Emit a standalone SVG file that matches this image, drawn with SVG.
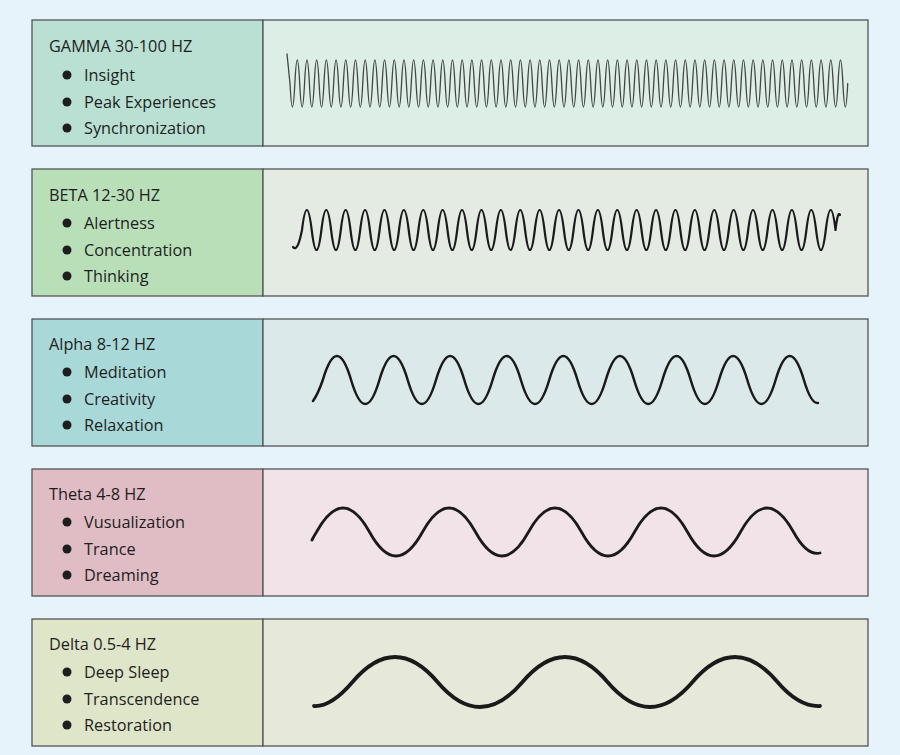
<svg xmlns="http://www.w3.org/2000/svg" width="900" height="755" viewBox="0 0 900 755">
<style>
.bd{stroke:#555;stroke-width:1.3}
.t{font-family:"Open Sans","Liberation Sans",sans-serif;font-size:16.3px;fill:#1e1e1e}
.w{fill:none;stroke:#1a1a1a;stroke-linecap:round;stroke-linejoin:round}
</style>
<rect width="900" height="755" fill="#e6f3fb"/>
<g id="gamma">
<rect class="bd" x="32" y="20" width="231" height="126" fill="#b9e0d2"/>
<rect class="bd" x="263" y="20" width="605" height="126" fill="#ddeee6"/>
<text class="t" x="49" y="52">GAMMA 30-100 HZ</text>
<circle cx="67" cy="75" r="4.5" fill="#1e1e1e"/><text class="t" x="84" y="81">Insight</text>
<circle cx="67" cy="102" r="4.5" fill="#1e1e1e"/><text class="t" x="84" y="108">Peak Experiences</text>
<circle cx="67" cy="128" r="4.5" fill="#1e1e1e"/><text class="t" x="84" y="134">Synchronization</text>
<path class="w" style="stroke:#444;stroke-width:1.3" d="M287,54 L290,83.5 q2.425,47 4.85,0 t4.85,0 t4.85,0 t4.85,0 t4.85,0 t4.85,0 t4.85,0 t4.85,0 t4.85,0 t4.85,0 t4.85,0 t4.85,0 t4.85,0 t4.85,0 t4.85,0 t4.85,0 t4.85,0 t4.85,0 t4.85,0 t4.85,0 t4.85,0 t4.85,0 t4.85,0 t4.85,0 t4.85,0 t4.85,0 t4.85,0 t4.85,0 t4.85,0 t4.85,0 t4.85,0 t4.85,0 t4.85,0 t4.85,0 t4.85,0 t4.85,0 t4.85,0 t4.85,0 t4.85,0 t4.85,0 t4.85,0 t4.85,0 t4.85,0 t4.85,0 t4.85,0 t4.85,0 t4.85,0 t4.85,0 t4.85,0 t4.85,0 t4.85,0 t4.85,0 t4.85,0 t4.85,0 t4.85,0 t4.85,0 t4.85,0 t4.85,0 t4.85,0 t4.85,0 t4.85,0 t4.85,0 t4.85,0 t4.85,0 t4.85,0 t4.85,0 t4.85,0 t4.85,0 t4.85,0 t4.85,0 t4.85,0 t4.85,0 t4.85,0 t4.85,0 t4.85,0 t4.85,0 t4.85,0 t4.85,0 t4.85,0 t4.85,0 t4.85,0 t4.85,0 t4.85,0 t4.85,0 t4.85,0 t4.85,0 t4.85,0 t4.85,0 t4.85,0 t4.85,0 t4.85,0 t4.85,0 t4.85,0 t4.85,0 t4.85,0 t4.85,0 t4.85,0 t4.85,0 t4.85,0 t4.85,0 t4.85,0 t4.85,0 t4.85,0 t4.85,0 t4.85,0 t4.85,0 t4.85,0 t4.85,0 t4.85,0 t4.85,0 t4.85,0 t4.85,0 t4.85,0 t4.85,0 t4.85,0"/>
</g>
<g id="beta">
<rect class="bd" x="32" y="169" width="231" height="127" fill="#b9dfb9"/>
<rect class="bd" x="263" y="169" width="605" height="127" fill="#e3ebe3"/>
<text class="t" x="49" y="201">BETA 12-30 HZ</text>
<circle cx="67" cy="223" r="4.5" fill="#1e1e1e"/><text class="t" x="84" y="229">Alertness</text>
<circle cx="67" cy="250" r="4.5" fill="#1e1e1e"/><text class="t" x="84" y="256">Concentration</text>
<circle cx="67" cy="276" r="4.5" fill="#1e1e1e"/><text class="t" x="84" y="282">Thinking</text>
<path class="w" style="stroke-width:2.2" d="M293,247 C297,252 300,240 302,230 q4.85,-40 9.7,0 t9.7,0 t9.7,0 t9.7,0 t9.7,0 t9.7,0 t9.7,0 t9.7,0 t9.7,0 t9.7,0 t9.7,0 t9.7,0 t9.7,0 t9.7,0 t9.7,0 t9.7,0 t9.7,0 t9.7,0 t9.7,0 t9.7,0 t9.7,0 t9.7,0 t9.7,0 t9.7,0 t9.7,0 t9.7,0 t9.7,0 t9.7,0 t9.7,0 t9.7,0 t9.7,0 t9.7,0 t9.7,0 t9.7,0 t9.7,0 t9.7,0 t9.7,0 t9.7,0 t9.7,0 t9.7,0 t9.7,0 t9.7,0 t9.7,0 t9.7,0 t9.7,0 t9.7,0 t9.7,0 t9.7,0 t9.7,0 t9.7,0 t9.7,0 t9.7,0 t9.7,0 t9.7,0 t9.7,0 q2.4,-20 4.5,-15"/>
</g>
<g id="alpha">
<rect class="bd" x="32" y="319" width="231" height="127" fill="#a9d8d8"/>
<rect class="bd" x="263" y="319" width="605" height="127" fill="#dce9ea"/>
<text class="t" x="49" y="350">Alpha 8-12 HZ</text>
<circle cx="67" cy="372" r="4.5" fill="#1e1e1e"/><text class="t" x="84" y="378">Meditation</text>
<circle cx="67" cy="399" r="4.5" fill="#1e1e1e"/><text class="t" x="84" y="405">Creativity</text>
<circle cx="67" cy="425" r="4.5" fill="#1e1e1e"/><text class="t" x="84" y="431">Relaxation</text>
<path class="w" style="stroke-width:2.5" d="M313,401 Q318,394 322.8,380 q14.15,-48 28.3,0 t28.3,0 t28.3,0 t28.3,0 t28.3,0 t28.3,0 t28.3,0 t28.3,0 t28.3,0 t28.3,0 t28.3,0 t28.3,0 t28.3,0 t28.3,0 t28.3,0 t28.3,0 t28.3,0 Q811,404 818,403"/>
</g>
<g id="theta">
<rect class="bd" x="32" y="469" width="231" height="127" fill="#e0bcc4"/>
<rect class="bd" x="263" y="469" width="605" height="127" fill="#f1e3e8"/>
<text class="t" x="49" y="500">Theta 4-8 HZ</text>
<circle cx="67" cy="522" r="4.5" fill="#1e1e1e"/><text class="t" x="84" y="528">Vusualization</text>
<circle cx="67" cy="549" r="4.5" fill="#1e1e1e"/><text class="t" x="84" y="555">Trance</text>
<circle cx="67" cy="575" r="4.5" fill="#1e1e1e"/><text class="t" x="84" y="581">Dreaming</text>
<path class="w" style="stroke-width:2.8" d="M312,540 Q314,536 316.5,532 q26.5,-48 53,0 t53,0 t53,0 t53,0 t53,0 t53,0 t53,0 t53,0 t53,0 Q806.75,556 820,553"/>
</g>
<g id="delta">
<rect class="bd" x="32" y="619" width="231" height="127" fill="#dfe5c8"/>
<rect class="bd" x="263" y="619" width="605" height="127" fill="#e6e8da"/>
<text class="t" x="49" y="650">Delta 0.5-4 HZ</text>
<circle cx="67" cy="672" r="4.5" fill="#1e1e1e"/><text class="t" x="84" y="678">Deep Sleep</text>
<circle cx="67" cy="699" r="4.5" fill="#1e1e1e"/><text class="t" x="84" y="705">Transcendence</text>
<circle cx="67" cy="725" r="4.5" fill="#1e1e1e"/><text class="t" x="84" y="731">Restoration</text>
<path class="w" style="stroke-width:3.8" d="M314,706 Q331.25,707 352.5,682 q42.5,-50 85,0 t85,0 t85,0 t85,0 t85,0 Q798.75,707 820,706"/>
</g>
<g id="connectors"/>
</svg>
